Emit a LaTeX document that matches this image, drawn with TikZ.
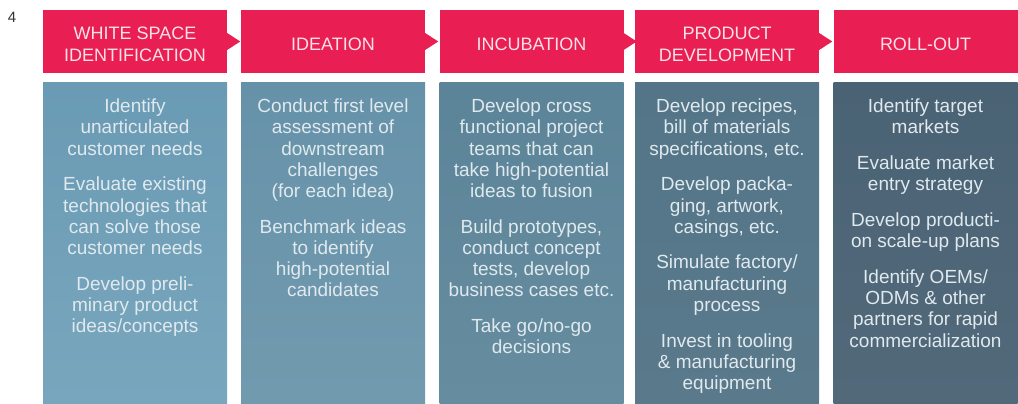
\documentclass[tikz,border=0pt]{standalone}
\usepackage{fontspec}
\setmainfont{Liberation Sans}
\usetikzlibrary{positioning}

\definecolor{stagered}{RGB}{233,30,82}
\definecolor{headtext}{RGB}{250,226,232}
\definecolor{bodytextcol}{RGB}{224,233,238}
\definecolor{colatop}{RGB}{106,155,180}
\definecolor{colabot}{RGB}{120,166,189}
\definecolor{colbtop}{RGB}{102,146,169}
\definecolor{colbbot}{RGB}{114,154,175}
\definecolor{colctop}{RGB}{92,132,152}
\definecolor{colcbot}{RGB}{102,140,159}
\definecolor{coldtop}{RGB}{83,117,135}
\definecolor{coldbot}{RGB}{90,122,140}
\definecolor{coletop}{RGB}{74,99,116}
\definecolor{colebot}{RGB}{82,105,122}

\begin{document}
\begin{tikzpicture}[x=1pt, y=-1pt,
    header/.style={fill=stagered, minimum width=184pt, minimum height=63pt, inner sep=0pt},
    headlabel/.style={text=headtext, inner sep=0pt, align=center, font=\fontsize{18}{22}\selectfont},
    stagebody/.style={minimum width=184pt, minimum height=321pt, inner sep=0pt},
    stagetext/.style={text=bodytextcol, align=center, inner sep=0pt,
        font=\fontsize{19}{21.2}\selectfont, execute at begin node=\strut}]
    \useasboundingbox (0,0) rectangle (1018,404);

    % Page number
    \node[font=\fontsize{15}{18}\selectfont, text=black!80] (pagenum) at (12,17) {4};

    % Stage headers
    \node[header] (wsi)   at (135,41.5)   {};
    \node[header] (idea)  at (333,41.5)   {};
    \node[header] (incub) at (531.5,41.5) {};
    \node[header] (dev)   at (727,41.5)   {};
    \node[header] (roll)  at (925.5,41.5) {};

    % Pointers between headers
    \fill[stagered] ([yshift=8.5pt]wsi.east) -- ([xshift=13pt]wsi.east) -- ([yshift=-8.5pt]wsi.east) -- cycle;
    \fill[stagered] ([yshift=8.5pt]idea.east) -- ([xshift=13pt]idea.east) -- ([yshift=-8.5pt]idea.east) -- cycle;
    \fill[stagered] ([yshift=8.5pt]incub.east) -- ([xshift=13pt]incub.east) -- ([yshift=-8.5pt]incub.east) -- cycle;
    \fill[stagered] ([yshift=8.5pt]dev.east) -- ([xshift=13pt]dev.east) -- ([yshift=-8.5pt]dev.east) -- cycle;

    % Header labels
    \node[headlabel] (wsilabel)   at ([yshift=-3pt]wsi.center)   {WHITE SPACE\\IDENTIFICATION};
    \node[headlabel] (idealabel)  at ([yshift=-3pt]idea.center)  {IDEATION};
    \node[headlabel] (incublabel) at ([yshift=-3pt]incub.center) {INCUBATION};
    \node[headlabel] (devlabel)   at ([yshift=-3pt]dev.center)   {PRODUCT\\DEVELOPMENT};
    \node[headlabel] (rolllabel)  at ([yshift=-3pt]roll.center)  {ROLL-OUT};

    % Stage columns
    \node[stagebody, top color=colatop, bottom color=colabot] (wsibody)   at (135,243.5)   {};
    \node[stagebody, top color=colbtop, bottom color=colbbot] (ideabody)  at (333,243.5)   {};
    \node[stagebody, top color=colctop, bottom color=colcbot] (incubbody) at (531.5,243.5) {};
    \node[stagebody, top color=coldtop, bottom color=coldbot] (devbody)   at (727,243.5)   {};
    \node[stagebody, top color=coletop, bottom color=colebot] (rollbody)  at (925.5,243.5) {};

    % Column texts
    \node[stagetext, below=16pt of wsibody.north] (wsitext)
        {Identify\\unarticulated\\customer needs\\[14.5pt]
         Evaluate existing\\technologies that\\can solve those\\customer needs\\[14.5pt]
         Develop preli-\\minary product\\ideas/concepts};
    \node[stagetext, below=16pt of ideabody.north] (ideatext)
        {Conduct first level\\assessment of\\downstream\\challenges\\(for each idea)\\[14.5pt]
         Benchmark ideas\\to identify\\high-potential\\candidates};
    \node[stagetext, below=16pt of incubbody.north] (incubtext)
        {Develop cross\\functional project\\teams that can\\take high-potential\\ideas to fusion\\[14.5pt]
         Build prototypes,\\conduct concept\\tests, develop\\business cases etc.\\[14.5pt]
         Take go/no-go\\decisions};
    \node[stagetext, below=16pt of devbody.north] (devtext)
        {Develop recipes,\\bill of materials\\specifications, etc.\\[14.5pt]
         Develop packa-\\ging, artwork,\\casings, etc.\\[14.5pt]
         Simulate factory/\\manufacturing\\process\\[14.5pt]
         Invest in tooling\\\& manufacturing\\equipment};
    \node[stagetext, below=16pt of rollbody.north] (rolltext)
        {Identify target\\markets\\[14.5pt]
         Evaluate market\\entry strategy\\[14.5pt]
         Develop producti-\\on scale-up plans\\[14.5pt]
         Identify OEMs/\\ODMs \& other\\partners for rapid\\commercialization};
\end{tikzpicture}
\end{document}
